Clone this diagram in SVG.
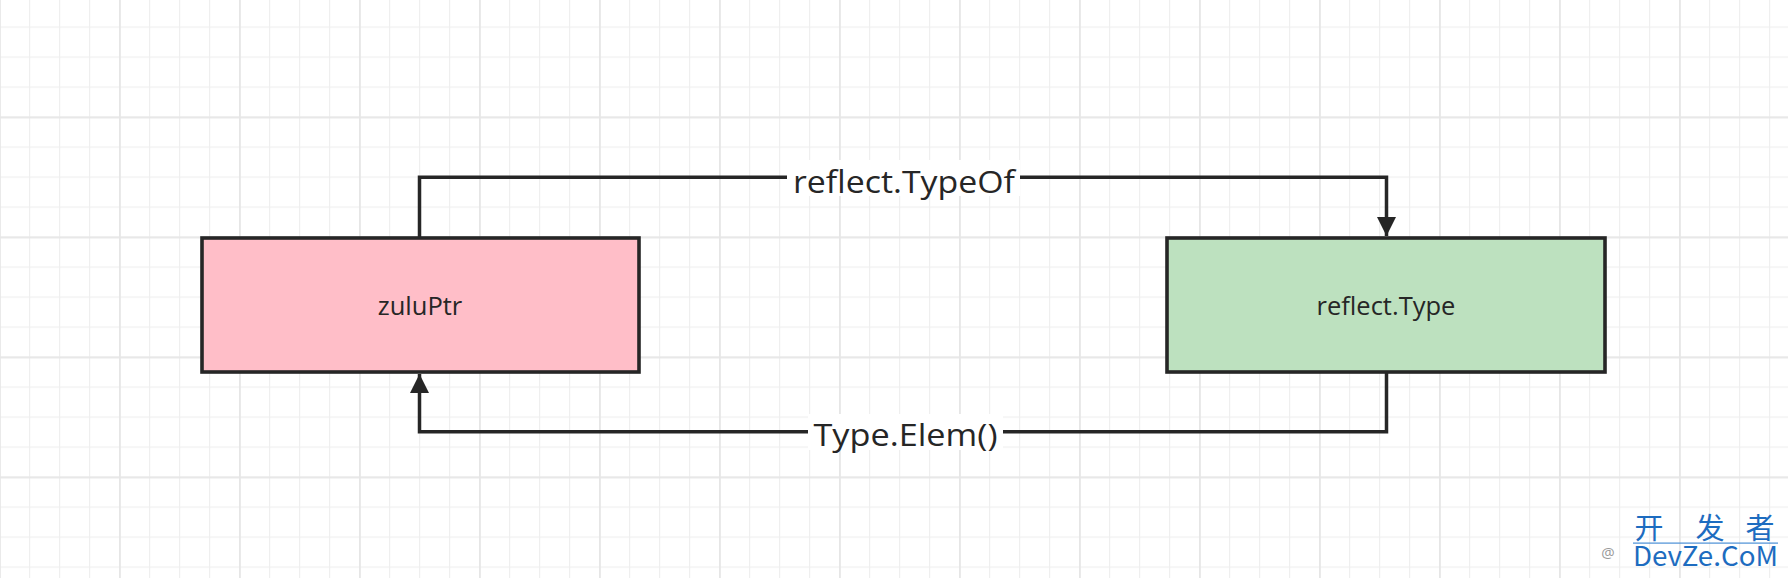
<svg xmlns="http://www.w3.org/2000/svg" width="1788" height="578" viewBox="0 0 1788 578">
<style>
.box{stroke:#262626;stroke-width:3.6}
.lbl{font-family:"Open Sans","Noto Sans","DejaVu Sans",sans-serif;fill:#262626;text-anchor:middle}
.edge{fill:none;stroke:#262626;stroke-width:3.5}
.elbl{font-family:"Open Sans","Noto Sans","DejaVu Sans",sans-serif;fill:#262626;text-anchor:middle;font-size:31px}
.wm{font-family:"Noto Sans CJK SC","Open Sans",sans-serif;fill:#1d6cc0}
</style>
<defs>
<pattern id="minor" patternUnits="userSpaceOnUse" x="-1" y="-3.5" width="30" height="30">
<rect x="0" y="0" width="1.2" height="30" fill="#efefef"/>
<rect x="0" y="0" width="30" height="1.2" fill="#efefef"/>
</pattern>
<pattern id="major" patternUnits="userSpaceOnUse" x="-1" y="-3.5" width="120" height="120">
<rect x="0" y="0" width="1.8" height="120" fill="#e6e6e6"/>
<rect x="0" y="0" width="120" height="1.8" fill="#e6e6e6"/>
</pattern>
<marker id="arrow" viewBox="0 0 10 10" refX="10" refY="5" markerUnits="userSpaceOnUse" markerWidth="27" markerHeight="19" orient="auto">
<path d="M0 0 L10 5 L0 10 Z" fill="#262626"/>
</marker>
</defs>
<rect width="1788" height="578" fill="#ffffff"/>
<rect width="1788" height="578" fill="url(#minor)"/>
<rect width="1788" height="578" fill="url(#major)"/>

<g id="connectors">
<g id="edge-typeof">
<path class="edge" d="M419.5 238 V177.2 H1386.5 V236" marker-end="url(#arrow)"/>
<rect x="787" y="160" width="233" height="36" fill="#ffffff"/>
<text class="elbl" x="904" y="192.5" textLength="222" lengthAdjust="spacingAndGlyphs">reflect.TypeOf</text>
</g>
<g id="edge-elem">
<path class="edge" d="M1386.5 372 V431.8 H419.5 V374" marker-end="url(#arrow)"/>
<rect x="808" y="414" width="195" height="36" fill="#ffffff"/>
<text class="elbl" x="905.5" y="446" textLength="184" lengthAdjust="spacingAndGlyphs">Type.Elem()</text>
</g>
</g>

<g id="node-zuluPtr">
<rect class="box" x="202" y="238" width="437" height="134" fill="#ffbec8"/>
<text class="lbl" x="420" y="315" font-size="25.5">zuluPtr</text>
</g>
<g id="node-reflectType">
<rect class="box" x="1167" y="238" width="438" height="134" fill="#bde1bf"/>
<text class="lbl" x="1386" y="315" font-size="25.5">reflect.Type</text>
</g>

<g id="watermark">
<text class="wm" x="1649 1710 1760" y="539" font-size="29" text-anchor="middle">开发者</text>
<rect x="1633" y="542.5" width="145" height="1.2" fill="#4a8fd6"/>
<text class="wm" x="1633" y="566" font-size="27" textLength="145" lengthAdjust="spacingAndGlyphs">DevZe.CoM</text>
<text x="1608" y="558" font-family="Open Sans,sans-serif" font-size="15" fill="#9a9a9a" text-anchor="middle">@</text>
</g>
</svg>
